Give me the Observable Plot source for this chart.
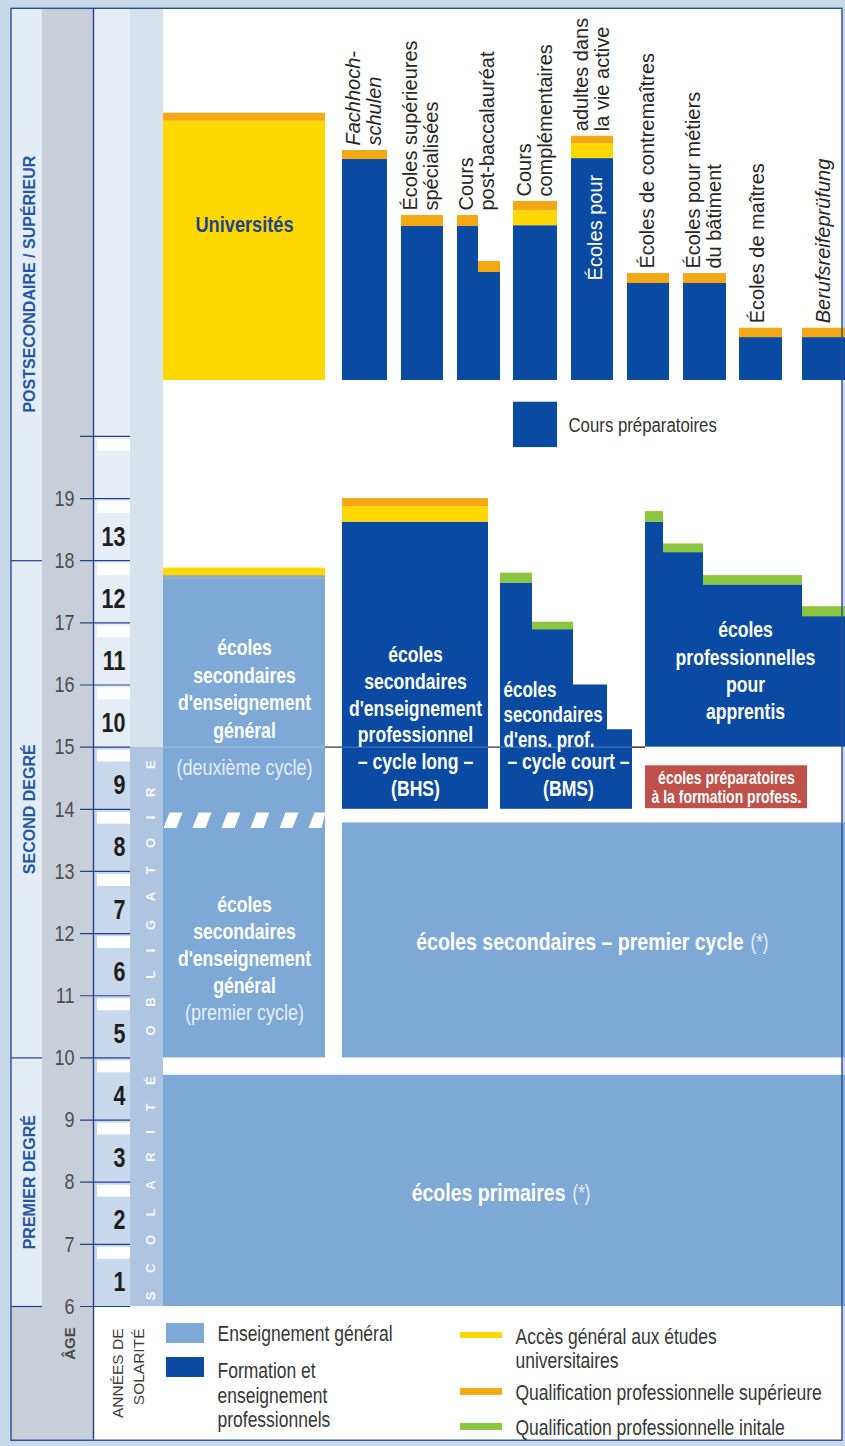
<!DOCTYPE html>
<html lang="fr"><head><meta charset="utf-8">
<script src="https://cdn.jsdelivr.net/npm/d3@7"></script>
<script src="https://cdn.jsdelivr.net/npm/@observablehq/plot@0.6"></script>
<style>html,body{margin:0;padding:0;background:#fff}svg{display:block}</style>
</head><body><div id="chart"></div>
<script>
// ================= DATA (ages in years) =================
const ageTicks   = [6,7,8,9,10,11,12,13,14,15,16,17,18,19,20];
const ageLabels  = [6,7,8,9,10,11,12,13,14,15,16,17,18,19];
const schoolYears = [1,2,3,4,5,6,7,8,9,10,11,12,13];

const sectionNames = ["PREMIER DEGRÉ", "SECOND DEGRÉ", "POSTSECONDAIRE / SUPÉRIEUR"];
const sectionStart = [6, 10, 18];
const sectionEnd   = [10, 18, 26.9];
const compulsory   = [6, 15];

// general education (light blue)
const primaryAges  = [6, 9.72];
const lowerSecAges = [10, 13.78];
const ahsAges      = [10, 17.70];
const ahsYellow    = [17.76, 17.88];
const uniYellow    = [20.9, 25.07];
const uniOrange    = [25.07, 25.2];

// BHS
const bhsBlue   = [14, 18.62];
const bhsYellow = [18.62, 18.87];
const bhsOrange = [18.87, 19.0];
// BMS (stepped)
const bmsBase     = 14;
const bmsBlueTop  = [17.64, 16.89, 16.0, 15.28];
const bmsGreenTop = [17.80, 17.01, null, null];
// apprentices (stepped)
const appBase     = 15;
const appBlueTop  = [18.62, 18.13, 17.61, 17.10];
const appGreenTop = [18.79, 18.27, 17.76, 17.26];
// pre-vocational school
const prevocAges = [14.01, 14.70];

// postsecondary institutions
const postNames = ["Fachhochschulen", "Écoles supérieures spécialisées", "Cours post-baccalauréat", "Cours post-baccalauréat",
  "Cours complémentaires", "Écoles pour adultes dans la vie active", "Écoles de contremaîtres",
  "Écoles pour métiers du bâtiment", "Écoles de maîtres", "Berufsreifeprüfung"];
const postBase      = 20.9;
const postBlueTop   = [24.455, 23.377, 23.377, 22.637, 23.39, 24.47, 22.46, 22.46, 21.59, 21.59];
const postYellowTop = [24.455, 23.377, 23.377, 22.637, 23.63, 24.71, 22.46, 22.46, 21.59, 21.59];
const postOrangeTop = [24.60, 23.554, 23.554, 22.814, 23.78, 24.83, 22.62, 22.62, 21.74, 21.74];
const postLabels = ["Fachhoch-\nschulen", "Écoles supérieures\nspécialisées", "Cours\npost-baccalauréat", null,
  "Cours\ncomplémentaires", "adultes dans\nla vie active", "Écoles de contremaîtres",
  "Écoles pour métiers\ndu bâtiment", "Écoles de maîtres", "Berufsreifeprüfung"];
const prepCourse = [19.82, 20.55];

const legendGroups = ["Enseignement général", "Formation et\nenseignement\nprofessionnels"];
const legendQual = ["Accès général aux études\nuniversitaires", "Qualification professionnelle supérieure", "Qualification professionnelle initale"];

// ================= LAYOUT / STYLE =================
const W = 845, H = 1446;
const PX6 = 1306, PXY = 62.15;               // calibration of the age scale
const yDomain = [6 - (H - PX6) / PXY, 6 + PX6 / PXY];
const C = {gen:"#7ea9d6", pro:"#0b4aa2", yel:"#ffd800", ora:"#f4a814", grn:"#8cc63f", red:"#c0504a"};
const postX = [[342,387],[401,443],[457,478],[478,500],[513,557],[571,613],[627,669],[683,726],[739,782],[802,845]];
const postLabelX = [363.5, 420.5, 476.5, null, 534, 591.5, 647, 703.5, 757, 823];
const bmsX = [[500,532],[532,573],[573,607],[607,632]];
const appX = [[645,663],[663,703],[703,802],[802,845]];
const AF = '"Liberation Sans", Arial, sans-serif';
const K = 1.25;   // vertical stretch of the condensed-looking horizontal lettering

// horizontal text helper (stretched vertically after rendering)
function htext(data, opts, size, spacing) {
  return Plot.text(data, {
    ...opts, fontSize: size, fontFamily: AF,
    lineHeight: spacing ? spacing / (size * K) : 1,
    ariaDescription: "stretch"
  });
}

// ================= BUILD RECTS =================
const bg = [];
const addBg = (x1,x2,y1,y2,fill) => bg.push({x1,x2,y1,y2,fill});
addBg(0, W, yDomain[0], yDomain[1], "#c7daea");
addBg(11, 842, 3.84, 26.88, "#ffffff");
addBg(11, 42, 6, 26.88, "#e4ecf5");
addBg(11, 93, 3.84, 6, "#c9cfd8");
addBg(42, 93, 6, 26.88, "#c9cfd8");
addBg(93, 130, compulsory[1], 26.88, "#e7edf4");
addBg(93, 130, compulsory[0], compulsory[1], "#c8d9ee");
addBg(130, 163, compulsory[1], 26.88, "#d8e2ed");
addBg(130, 163, compulsory[0], compulsory[1], "#adc5e0");
ageTicks.filter(a => a > 6).forEach(a => addBg(97, 130, a - 0.24, a - 0.05, "#ffffff"));

const blocks = [];
const add = (x1,x2,y1,y2,fill) => { if (y2 != null && y2 > y1) blocks.push({x1,x2,y1,y2,fill}); };
add(163, 845, primaryAges[0], primaryAges[1], C.gen);
add(342, 845, lowerSecAges[0], lowerSecAges[1], C.gen);
add(163, 325, ahsAges[0], ahsAges[1], C.gen);
add(163, 325, ahsAges[1], ahsYellow[0], "#8ea9c2");
add(163, 325, ahsYellow[0], ahsYellow[1], C.yel);
add(163, 325, uniYellow[0], uniYellow[1], C.yel);
add(163, 325, uniOrange[0], uniOrange[1], C.ora);
add(342, 488, bhsBlue[0], bhsBlue[1], C.pro);
add(342, 488, bhsYellow[0], bhsYellow[1], C.yel);
add(342, 488, bhsOrange[0], bhsOrange[1], C.ora);
bmsBlueTop.forEach((t, i) => { add(bmsX[i][0], bmsX[i][1], bmsBase, t, C.pro); add(bmsX[i][0], bmsX[i][1], t, bmsGreenTop[i], C.grn); });
appBlueTop.forEach((t, i) => { add(appX[i][0], appX[i][1], appBase, t, C.pro); add(appX[i][0], appX[i][1], t, appGreenTop[i], C.grn); });
add(645, 807, prevocAges[0], prevocAges[1], C.red);
postBlueTop.forEach((t, i) => {
  const [a, b] = postX[i];
  add(a, b, postBase, t, C.pro);
  add(a, b, t, postYellowTop[i], C.yel);
  add(a, b, postYellowTop[i], postOrangeTop[i], C.ora);
});
add(513, 557, prepCourse[0], prepCourse[1], C.pro);
// legend swatches
add(166, 204, 5.405, 5.726, C.gen);
add(166, 204, 4.858, 5.179, C.pro);
add(460, 502, 5.485, 5.582, C.yel);
add(460, 502, 4.57, 4.68, C.ora);
add(460, 502, 4.005, 4.117, C.grn);

// hatch between the two cycles of the general secondary school
const hatch = [];
d3.range(163, 322, 29).forEach((x, i) => {
  const lo = 13.70, hi = 13.95;
  [[x, lo], [Math.min(x + 13, 325), lo], [Math.min(x + 19, 325), hi], [x + 6, hi]].forEach(([px, py]) => hatch.push({x: px, y: py, z: i}));
});

// ================= TEXT =================
const postLabelData = postLabels.map((t, i) => t && ({
  text: t, x: postLabelX[i],
  y: (i === 2 ? postOrangeTop[1] : postOrangeTop[i]) + 0.08,
  italic: i === 0 || i === 9
})).filter(Boolean);

const whiteBold = [
  {text: "écoles\nsecondaires\nd'enseignement\ngénéral", x: 244, y: 15.96, sp: 27.5},
  {text: "écoles\nsecondaires\nd'enseignement\ngénéral", x: 244, y: 11.84, sp: 27},
  {text: "écoles\nsecondaires\nd'enseignement\nprofessionnel\n– cycle long –\n(BHS)", x: 415, y: 15.43, sp: 26.8},
  {text: "– cycle court –\n(BMS)", x: 568, y: 14.57, sp: 27},
  {text: "écoles\nprofessionnelles\npour\napprentis", x: 745, y: 16.25, sp: 27.3}
];
const whiteLight = [
  {text: "(deuxième cycle)", x: 244, y: 14.67},
  {text: "(premier cycle)", x: 244, y: 10.73}
];

// ================= PLOT =================
const plot = Plot.plot({
  width: W, height: H, margin: 0,
  x: {domain: [0, W], range: [0, W], axis: null},
  y: {domain: yDomain, range: [H, 0], axis: null},
  color: {type: "identity"},
  style: {background: "white", overflow: "visible"},
  marks: [
    Plot.rect(bg, {x1: "x1", x2: "x2", y1: "y1", y2: "y2", fill: "fill"}),
    Plot.ruleY([compulsory[1]], {x1: 325, x2: 645, stroke: "#111", strokeWidth: 1.3}),
    Plot.rect(blocks, {x1: "x1", x2: "x2", y1: "y1", y2: "y2", fill: "fill"}),
    Plot.ruleY([compulsory[1]], {x1: 163, x2: 632, stroke: "#ffffff", strokeOpacity: 0.28, strokeWidth: 1}),
    Plot.line(hatch, {x: "x", y: "y", z: "z", fill: "white", stroke: "none", curve: "linear-closed"}),
    // axis ticks & dividers
    Plot.ruleY(ageTicks, {x1: 80, x2: 130, stroke: "#23408f", strokeWidth: 1.2}),
    Plot.ruleY(sectionStart, {x1: 11, x2: 42, stroke: "#23408f", strokeWidth: 1.2}),
    Plot.ruleX([93], {y1: yDomain[0] + 0.1, y2: 26.88, stroke: "#23408f", strokeWidth: 1.4}),
    Plot.rect([0], {x1: 11, x2: 842, y1: 3.84, y2: 26.88, fill: "none", stroke: "#2b4c96", strokeWidth: 1.4}),
    // age labels & school years
    htext(ageLabels, {x: 74, y: d => d, text: d => String(d), textAnchor: "end", fill: "#4d4d4d"}, 18),
    htext(schoolYears, {x: 125, y: d => 5 + d + 0.38, text: d => String(d), textAnchor: "end", fill: "#1e1e1e", fontWeight: "bold"}, 21.5),
    // section labels
    Plot.text(sectionNames, {x: 29, y: (d, i) => (sectionStart[i] + sectionEnd[i]) / 2, text: d => d, rotate: -90, fill: "#2257a6", fontSize: 16, fontWeight: "bold", fontFamily: AF}),
    Plot.text(["ÂGE"], {x: 70, y: 5.405, text: d => d, rotate: -90, fill: "#4a4a4a", fontSize: 15, fontWeight: "bold", fontFamily: AF}),
    Plot.text(["ANNÉES DE\nSOLARITÉ"], {x: 126.5, y: 5.646, text: d => d, rotate: -90, textAnchor: "end", lineHeight: 1.35, fill: "#3c3c3c", fontSize: 15.5, fontFamily: AF}),
    Plot.text(["SCOLARITÉ OBLIGATOIRE"], {x: 150, y: compulsory[0] + 0.1, text: d => d, rotate: -90, textAnchor: "start", fill: "#ffffff", fillOpacity: 0.9, fontSize: 13, fontWeight: "bold", fontFamily: AF}),
    // postsecondary labels
    Plot.text(postLabelData.filter(d => !d.italic), {x: "x", y: "y", text: "text", rotate: -90, textAnchor: "start", lineHeight: 1.05, fill: "#262626", fontSize: 20, fontFamily: AF}),
    Plot.text(postLabelData.filter(d => d.italic), {x: "x", y: "y", text: "text", rotate: -90, textAnchor: "start", lineHeight: 1.05, fill: "#262626", fontSize: 20, fontStyle: "italic", fontFamily: AF}),
    Plot.text(["Écoles pour"], {x: 595, y: 22.51, text: d => d, rotate: -90, textAnchor: "start", fill: "#ffffff", fontSize: 20, fontFamily: AF}),
    htext(["Universités"], {x: 244, y: 23.41, text: d => d, fill: "#1f4589", fontWeight: "bold"}, 18.2),
    htext(["Cours préparatoires"], {x: 568, y: 20.175, text: d => d, textAnchor: "start", fill: "#333"}, 16.8),
    // block texts
    ...whiteBold.map(d => htext([d], {x: "x", y: "y", text: "text", fill: "#ffffff", fontWeight: "bold"}, 17.6, d.sp)),
    htext(whiteLight, {x: "x", y: "y", text: "text", fill: "#e6eef8"}, 18),
    htext(["écoles\nsecondaires\nd'ens. prof."], {x: 503, y: 15.54, text: d => d, textAnchor: "start", fill: "#ffffff", fontWeight: "bold"}, 17, 25),
    htext(["écoles préparatoires\nà la formation profess."], {x: 726, y: 14.35, text: d => d, fill: "#ffffff", fontWeight: "bold"}, 14, 19),
    htext(["écoles secondaires – premier cycle"], {x: 743, y: 11.857, text: d => d, textAnchor: "end", fill: "#ffffff", fontWeight: "bold"}, 19.5),
    htext(["écoles primaires"], {x: 565, y: 7.82, text: d => d, textAnchor: "end", fill: "#ffffff", fontWeight: "bold"}, 19.5),
    htext(["(*)", "(*)"], {x: [750, 572], y: [11.857, 7.82], text: d => d, textAnchor: "start", fill: "#e6eef8"}, 17),
    // legend texts
    htext(legendGroups, {x: 217, y: [5.566, 4.584], text: d => d, textAnchor: "start", fill: "#363636"}, 17.5, 25),
    htext(legendQual, {x: 515, y: [5.324, 4.616, 4.053], text: d => d, textAnchor: "start", fill: "#363636"}, 17.5, 24)
  ]
});
document.getElementById("chart").appendChild(plot);
// condensed look: stretch the horizontal lettering vertically around each anchor
d3.select(plot).selectAll('g[aria-description="stretch"] text').each(function() {
  const t = this.getAttribute("transform");
  if (t) this.setAttribute("transform", t + ` scale(1,${K})`);
  else {
    const x = +this.getAttribute("x") || 0, y = +this.getAttribute("y") || 0;
    this.removeAttribute("x"); this.removeAttribute("y");
    this.setAttribute("transform", `translate(${x},${y}) scale(1,${K})`);
  }
});
// spread the compulsory-schooling lettering along its strip
d3.select(plot).selectAll("text").filter(function(){ return this.textContent === "SCOLARITÉ OBLIGATOIRE"; })
  .attr("textLength", 540).attr("lengthAdjust", "spacing");
</script>
</body></html>
